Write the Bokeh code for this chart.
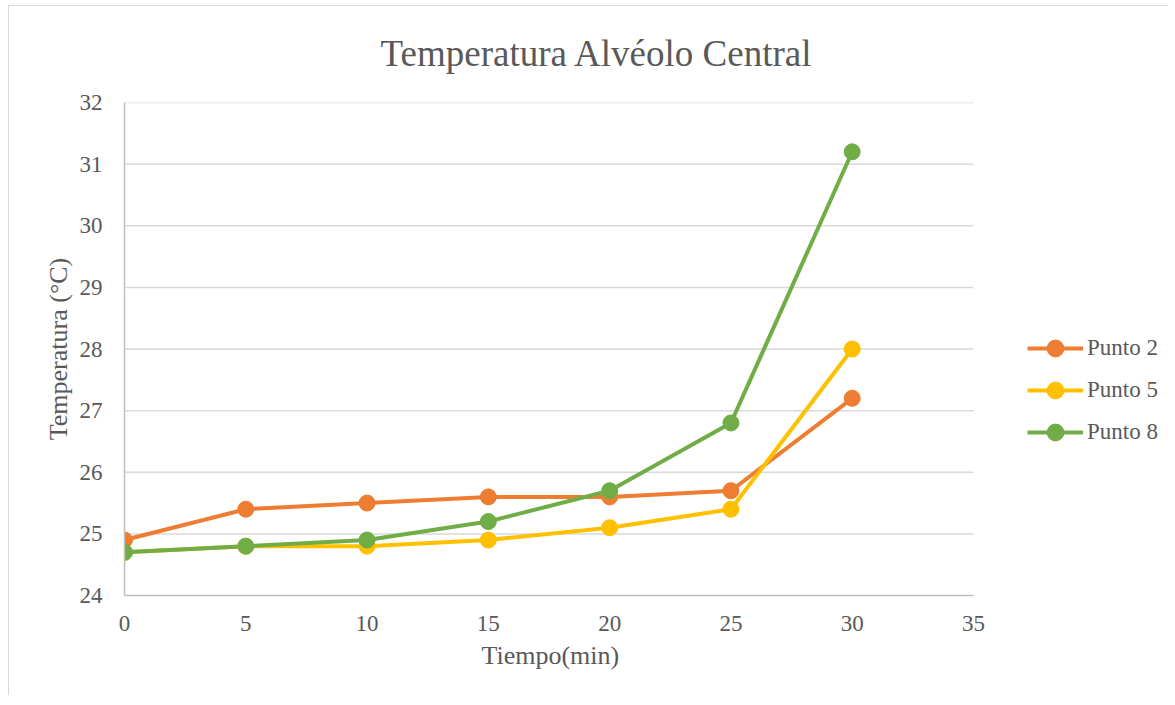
from bokeh.plotting import figure
from bokeh.models import Range1d, Legend, LegendItem, FixedTicker, Title
from bokeh.embed import file_html
from bokeh.resources import INLINE

tiempo = [0, 5, 10, 15, 20, 25, 30]
punto2 = [24.9, 25.4, 25.5, 25.6, 25.6, 25.7, 27.2]
punto5 = [24.7, 24.8, 24.8, 24.9, 25.1, 25.4, 28.0]
punto8 = [24.7, 24.8, 24.9, 25.2, 25.7, 26.8, 31.2]
series_names = ["Punto 2", "Punto 5", "Punto 8"]
colors = ["#ED7D31", "#FFC000", "#70AD47"]
x_ticks = [0, 5, 10, 15, 20, 25, 30, 35]
y_ticks = [24, 25, 26, 27, 28, 29, 30, 31, 32]

FONT = "Liberation Serif"
TXT = "#595959"

# plot area: axis 0..35 spans 849 px; frame extended to the right to host the legend
AXIS_PX = 849
FRAME_PX = 1041
X_MAX = 35 * FRAME_PX / AXIS_PX

p = figure(width=1160, height=690, output_backend="svg", toolbar_location=None,
           x_range=Range1d(0, X_MAX), y_range=Range1d(24, 32),
           title="Temperatura Alvéolo Central",
           y_axis_label="Temperatura (°C)")
p.styles = {"border-left": "1px solid #D9D9D9", "border-top": "1px solid #D9D9D9",
            "margin-left": "8px", "margin-top": "5px"}
p.min_border_left = 115
p.min_border_right = 1160 - 115 - FRAME_PX
p.min_border_top = 96
p.min_border_bottom = 101
p.outline_line_color = None
p.background_fill_color = "white"
p.border_fill_color = "white"

p.title.text_font = FONT
p.title.text_font_size = "37px"
p.title.text_font_style = "normal"
p.title.text_color = TXT
p.title.align = "left"
p.title.offset = 256
p.title.vertical_align = "top"
p.title.standoff = 53

for ax in (p.xaxis[0], p.yaxis[0]):
    ax.axis_label_text_font = FONT
    ax.axis_label_text_font_size = "26px"
    ax.axis_label_text_font_style = "normal"
    ax.axis_label_text_color = TXT
    ax.major_label_text_font = FONT
    ax.major_label_text_font_size = "23px"
    ax.major_label_text_color = TXT
    ax.major_tick_line_color = None
    ax.minor_tick_line_color = None
    ax.axis_line_color = "#BFBFBF"
    ax.axis_line_width = 1.5

p.xaxis.ticker = FixedTicker(ticks=x_ticks)
p.yaxis.ticker = FixedTicker(ticks=y_ticks)
p.xaxis.bounds = (0, 35)
p.xaxis.major_label_standoff = 14
p.yaxis.major_label_standoff = 16
p.yaxis.axis_label_standoff = 4

xlabel = Title(text="Tiempo(min)", align="left", offset=357, standoff=11,
               text_font=FONT, text_font_size="26px", text_font_style="normal",
               text_color=TXT)
p.add_layout(xlabel, "below")

p.xgrid.grid_line_color = None
p.ygrid.grid_line_color = None
p.segment(x0=[0] * len(y_ticks[1:]), y0=y_ticks[1:], x1=[35] * len(y_ticks[1:]), y1=y_ticks[1:],
          line_color="#D9D9D9", line_width=1.5, level="underlay")

items = []
for name, ys, c in zip(series_names, [punto2, punto5, punto8], colors):
    r1 = p.line(tiempo, ys, line_color=c, line_width=4)
    r2 = p.scatter(tiempo, ys, size=16, fill_color=c, line_color=c)
    items.append(LegendItem(label=name, renderers=[r1, r2]))

legend = Legend(items=items, location=(903, 142), orientation="vertical",
                label_text_font=FONT, label_text_font_size="23px",
                label_text_color=TXT, glyph_width=56, glyph_height=42,
                label_height=42, spacing=0, label_standoff=4, padding=0, margin=0,
                border_line_color=None, background_fill_alpha=0)
p.add_layout(legend, "center")

open("out.html", "w").write(file_html(p, INLINE))
